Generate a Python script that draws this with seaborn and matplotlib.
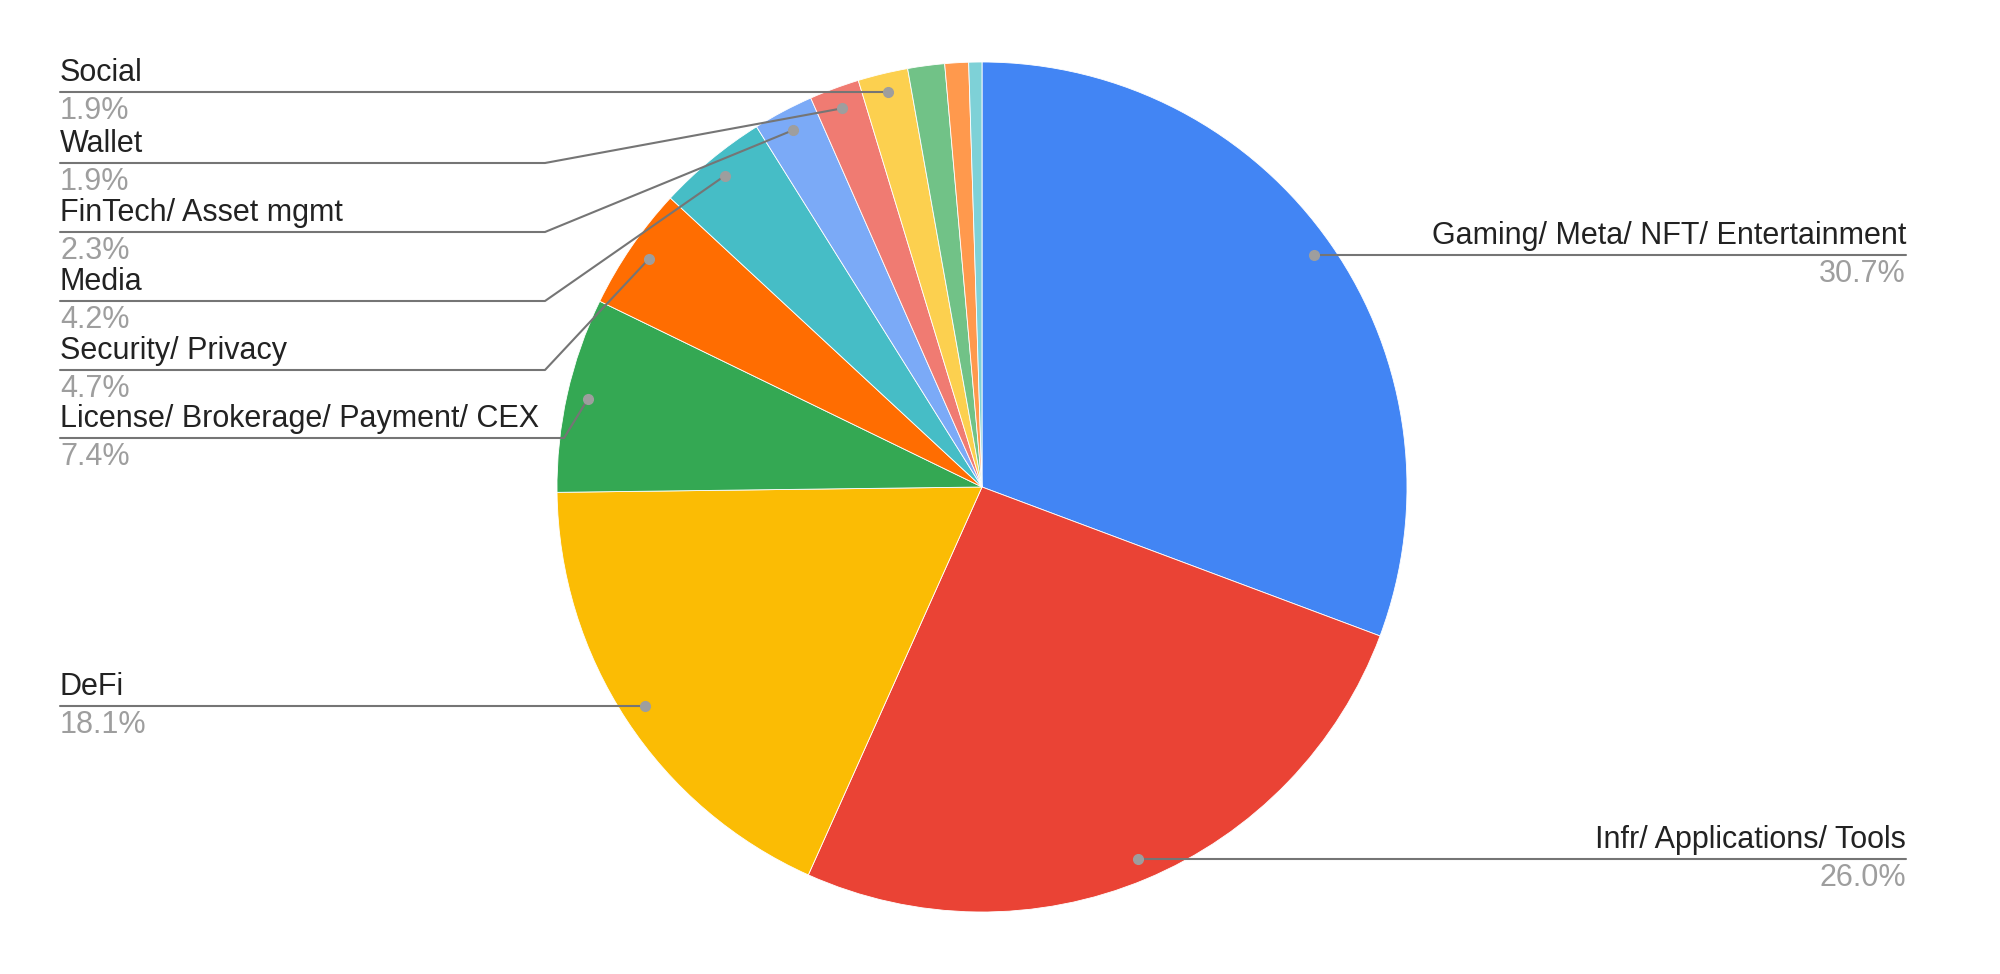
import matplotlib
matplotlib.use("Agg")
import matplotlib.pyplot as plt
import seaborn as sns
import numpy as np

categories = ["Gaming/ Meta/ NFT/ Entertainment", "Infr/ Applications/ Tools", "DeFi",
              "License/ Brokerage/ Payment/ CEX", "Security/ Privacy", "Media",
              "FinTech/ Asset mgmt", "Wallet", "Social", "Other A", "Other B", "Other C"]
values = [30.7, 26.0, 18.1, 7.4, 4.7, 4.2, 2.3, 1.9, 1.9, 1.4, 0.9, 0.5]
pct_labels = ["30.7%", "26.0%", "18.1%", "7.4%", "4.7%", "4.2%", "2.3%", "1.9%", "1.9%"]
hex_colors = ["#4285F4", "#EA4335", "#FBBC04", "#34A853", "#FF6D01", "#46BDC6",
              "#7BAAF7", "#F07B72", "#FCD04F", "#71C287", "#FF994D", "#7ED1D7"]

sns.set_theme(style="white")
plt.rcParams['font.family'] = ['Liberation Sans', 'DejaVu Sans']
colors = sns.color_palette(hex_colors)

H = 974
fig = plt.figure(figsize=(20, 9.74), dpi=100)
ax = fig.add_axes([0, 0, 1, 1])
cx, cy, R = 982, H - 487, 425
wedges, _ = ax.pie(values, colors=colors, startangle=90, counterclock=False,
                   center=(cx, cy), radius=R, wedgeprops=dict(linewidth=0.6, edgecolor="white"))
ax.set_xlim(0, 2000)
ax.set_ylim(0, H)
ax.set_aspect('equal')
ax.axis('off')

def dot(i):
    w = wedges[i]
    a = np.deg2rad((w.theta1 + w.theta2) / 2)
    return cx + 0.95 * R * np.cos(a), cy + 0.95 * R * np.sin(a)

lc = "#757575"
fs = 22
left = [(8, 92, None), (7, 163, 545), (6, 232, 545), (5, 301, 545),
        (4, 370, 545), (3, 438, 564), (2, 706, None)]
for i, ly, bx in left:
    dx, dy = dot(i)
    y = H - ly
    if bx is None:
        ax.plot([60, dx], [y, y], color=lc, lw=1.5)
        ax.plot([dx], [y], 'o', color="#9e9e9e", ms=7)
    else:
        ax.plot([60, bx, dx], [y, y, dy], color=lc, lw=1.5)
        ax.plot([dx], [dy], 'o', color="#9e9e9e", ms=7)
    ax.text(60, y + 4, categories[i], fontsize=fs, color="#222222", va='bottom', ha='left')
    ax.text(60, y - 4, pct_labels[i], fontsize=fs, color="#9e9e9e", va='top', ha='left')

right = [(0, 255), (1, 859)]
for i, ly in right:
    dx, dy = dot(i)
    y = H - ly
    ax.plot([dx, 1906], [y, y], color=lc, lw=1.5)
    ax.plot([dx], [y], 'o', color="#9e9e9e", ms=7)
    ax.text(1906, y + 4, categories[i], fontsize=fs, color="#222222", va='bottom', ha='right')
    ax.text(1906, y - 4, pct_labels[i], fontsize=fs, color="#9e9e9e", va='top', ha='right')

fig.savefig("out.png", dpi=100, facecolor="white")
